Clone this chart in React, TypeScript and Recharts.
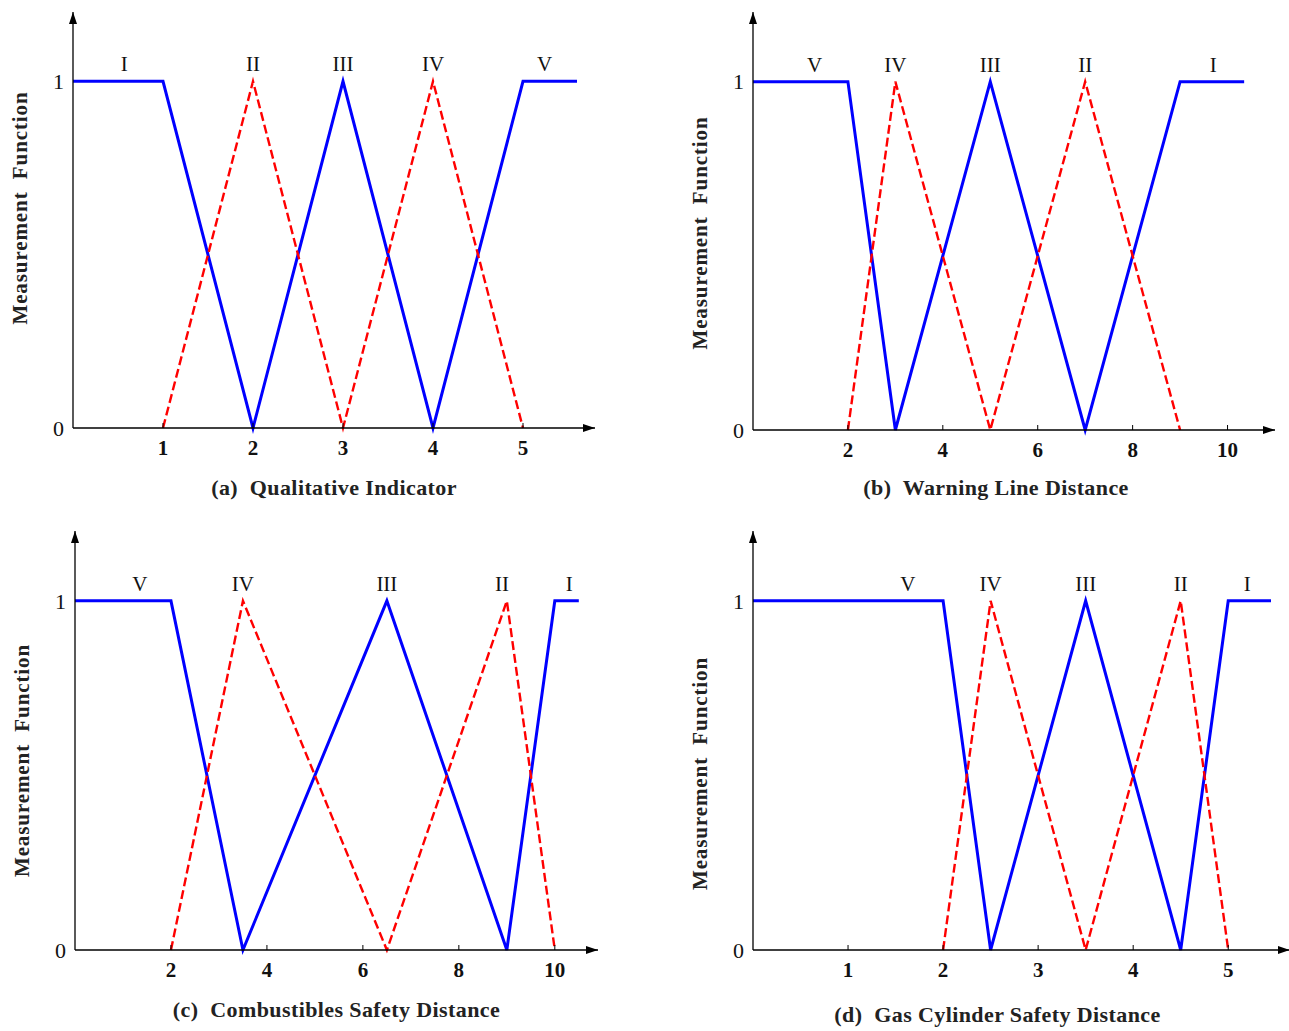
import { LineChart, Line, XAxis, YAxis, ReferenceDot } from "recharts";

// (a) Qualitative Indicator
const qualBlue = [
  { x: 0, y: 1 }, { x: 1, y: 1 }, { x: 2, y: 0 }, { x: 3, y: 1 }, { x: 4, y: 0 }, { x: 5, y: 1 }, { x: 5.6, y: 1 },
];
const qualRed = [{ x: 1, y: 0 }, { x: 2, y: 1 }, { x: 3, y: 0 }, { x: 4, y: 1 }, { x: 5, y: 0 }];
const qualTicks = [1, 2, 3, 4, 5];
const qualGrades = [
  { x: 0.57, t: "I" }, { x: 2, t: "II" }, { x: 3, t: "III" }, { x: 4, t: "IV" }, { x: 5.24, t: "V" },
];

// (b) Warning Line Distance
const warnBlue = [
  { x: 0, y: 1 }, { x: 2, y: 1 }, { x: 3, y: 0 }, { x: 5, y: 1 }, { x: 7, y: 0 }, { x: 9, y: 1 }, { x: 10.35, y: 1 },
];
const warnRed = [{ x: 2, y: 0 }, { x: 3, y: 1 }, { x: 5, y: 0 }, { x: 7, y: 1 }, { x: 9, y: 0 }];
const warnTicks = [2, 4, 6, 8, 10];
const warnGrades = [
  { x: 1.3, t: "V" }, { x: 3, t: "IV" }, { x: 5, t: "III" }, { x: 7, t: "II" }, { x: 9.7, t: "I" },
];

// (c) Combustibles Safety Distance
const combBlue = [
  { x: 0, y: 1 }, { x: 2, y: 1 }, { x: 3.5, y: 0 }, { x: 6.5, y: 1 }, { x: 9, y: 0 }, { x: 10, y: 1 }, { x: 10.5, y: 1 },
];
const combRed = [{ x: 2, y: 0 }, { x: 3.5, y: 1 }, { x: 6.5, y: 0 }, { x: 9, y: 1 }, { x: 10, y: 0 }];
const combTicks = [2, 4, 6, 8, 10];
const combGrades = [
  { x: 1.35, t: "V" }, { x: 3.5, t: "IV" }, { x: 6.5, t: "III" }, { x: 8.9, t: "II" }, { x: 10.3, t: "I" },
];

// (d) Gas Cylinder Safety Distance
const gasBlue = [
  { x: 0, y: 1 }, { x: 2, y: 1 }, { x: 2.5, y: 0 }, { x: 3.5, y: 1 }, { x: 4.5, y: 0 }, { x: 5, y: 1 }, { x: 5.45, y: 1 },
];
const gasRed = [{ x: 2, y: 0 }, { x: 2.5, y: 1 }, { x: 3.5, y: 0 }, { x: 4.5, y: 1 }, { x: 5, y: 0 }];
const gasTicks = [1, 2, 3, 4, 5];
const gasGrades = [
  { x: 1.63, t: "V" }, { x: 2.5, t: "IV" }, { x: 3.5, t: "III" }, { x: 4.5, t: "II" }, { x: 5.2, t: "I" },
];

const yTicks = [0, 1];

const FONT = "'Liberation Serif', 'Times New Roman', serif";
const BLUE = "#0000ff";
const RED = "#ff0000";

type Pt = { x: number; y: number };
type Grade = { x: number; t: string };

type PanelProps = {
  left: number;
  top: number;
  width: number;
  height: number;
  plot: { l: number; t: number; r: number; b: number }; // page coords of the plot box
  xMax: number;
  blue: Pt[];
  red: Pt[];
  ticks: number[];
  grades: Grade[];
  caption: string;
  captionDx: number;
  captionDy: number;
  yLabelDy: number;
};

function Panel(p: PanelProps) {
  const yAxisW = 40;
  const xAxisH = 30;
  const margin = {
    top: p.plot.t - p.top,
    left: p.plot.l - p.left - yAxisW,
    right: p.left + p.width - p.plot.r,
    bottom: p.top + p.height - p.plot.b - xAxisH,
  };
  return (
    <div style={{ position: "absolute", left: p.left, top: p.top }}>
      <LineChart width={p.width} height={p.height} margin={margin} style={{ overflow: "visible" }}>
        <XAxis
          type="number"
          dataKey="x"
          domain={[0, p.xMax]}
          ticks={p.ticks}
          allowDataOverflow
          height={xAxisH}
          axisLine={{ stroke: "#000", strokeWidth: 1.3, markerEnd: "url(#arrowHead)" }}
          tickLine={{ stroke: "#000", strokeWidth: 1 }}
          tickSize={-5}
          tickMargin={17}
          tick={{ fill: "#111", fontFamily: FONT, fontSize: 21, fontWeight: 700 }}
          label={{
            content: ({ viewBox }: any) => (
              <text
                x={viewBox.x + viewBox.width / 2 + p.captionDx}
                y={viewBox.y + 67 + p.captionDy}
                textAnchor="middle"
                fontFamily={FONT}
                fontSize={22}
                fontWeight={700}
                letterSpacing={0.4}
                fill="#222"
                style={{ whiteSpace: "pre" }}
              >
                {p.caption}
              </text>
            ),
          }}
        />
        <YAxis
          type="number"
          domain={[0, 1.2]}
          ticks={yTicks}
          width={yAxisW}
          axisLine={{ stroke: "#000", strokeWidth: 1.3, markerStart: "url(#arrowHead)" }}
          tickLine={false}
          tickMargin={3}
          tick={{ fill: "#111", fontFamily: FONT, fontSize: 22 }}
          label={{
            content: ({ viewBox }: any) => {
              const cx = viewBox.x + viewBox.width - 53;
              const cy = viewBox.y + viewBox.height / 2 + p.yLabelDy;
              return (
                <text
                  x={cx}
                  y={cy}
                  transform={`rotate(-90 ${cx} ${cy})`}
                  textAnchor="middle"
                  dominantBaseline="central"
                  fontFamily={FONT}
                  fontSize={21}
                  fontWeight={700}
                  letterSpacing={0.9}
                  fill="#222"
                  style={{ whiteSpace: "pre" }}
                >
                  {"Measurement  Function"}
                </text>
              );
            },
          }}
        />
        <Line
          data={p.blue}
          dataKey="y"
          stroke={BLUE}
          strokeWidth={3}
          dot={false}
          isAnimationActive={false}
          type="linear"
        />
        <Line
          data={p.red}
          dataKey="y"
          stroke={RED}
          strokeWidth={2.4}
          strokeDasharray="9 4"
          dot={false}
          isAnimationActive={false}
          type="linear"
        />
        {p.grades.map((g) => (
          <ReferenceDot
            key={g.t}
            x={g.x}
            y={1.05}
            r={0}
            fill="none"
            stroke="none"
            label={{
              value: g.t,
              position: "center",
              fontFamily: FONT,
              fontSize: 21,
              fill: "#111",
            }}
          />
        ))}
      </LineChart>
    </div>
  );
}

export default function App() {
  return (
    <div style={{ position: "absolute", left: 0, top: 0, width: 1289, height: 1031, background: "#fff" }}>
      <svg width={0} height={0} style={{ position: "absolute" }}>
        <defs>
          <marker
            id="arrowHead"
            viewBox="0 0 12 8"
            refX={12}
            refY={4}
            markerWidth={12}
            markerHeight={8}
            markerUnits="userSpaceOnUse"
            orient="auto-start-reverse"
          >
            <path d="M0,0 L12,4 L0,8 z" fill="#000" />
          </marker>
        </defs>
      </svg>
      <Panel
        left={0}
        top={0}
        width={640}
        height={515}
        plot={{ l: 73, t: 12, r: 595, b: 428 }}
        xMax={5.8}
        blue={qualBlue}
        red={qualRed}
        ticks={qualTicks}
        grades={qualGrades}
        caption="(a)  Qualitative Indicator"
        captionDx={0}
        captionDy={0}
        yLabelDy={-12}
      />
      <Panel
        left={645}
        top={0}
        width={644}
        height={515}
        plot={{ l: 753, t: 12, r: 1275, b: 430 }}
        xMax={11}
        blue={warnBlue}
        red={warnRed}
        ticks={warnTicks}
        grades={warnGrades}
        caption="(b)  Warning Line Distance"
        captionDx={-18}
        captionDy={-2}
        yLabelDy={12}
      />
      <Panel
        left={0}
        top={515}
        width={640}
        height={516}
        plot={{ l: 75, t: 531, r: 598, b: 950 }}
        xMax={10.9}
        blue={combBlue}
        red={combRed}
        ticks={combTicks}
        grades={combGrades}
        caption="(c)  Combustibles Safety Distance"
        captionDx={0}
        captionDy={0}
        yLabelDy={20}
      />
      <Panel
        left={645}
        top={515}
        width={644}
        height={516}
        plot={{ l: 753, t: 531, r: 1290, b: 950 }}
        xMax={5.65}
        blue={gasBlue}
        red={gasRed}
        ticks={gasTicks}
        grades={gasGrades}
        caption="(d)  Gas Cylinder Safety Distance"
        captionDx={-24}
        captionDy={5}
        yLabelDy={33}
      />
    </div>
  );
}
